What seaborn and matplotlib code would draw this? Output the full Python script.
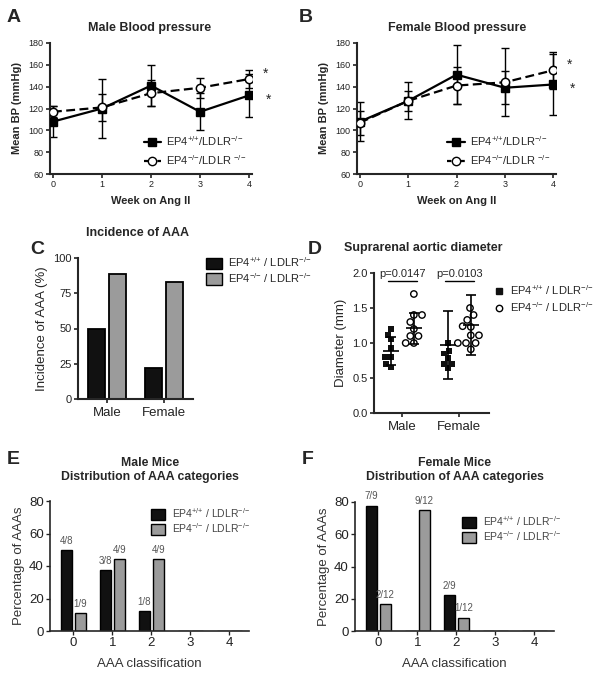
import numpy as np
import pandas as pd
import seaborn as sns
import matplotlib.pyplot as plt
from matplotlib.patches import Patch
from matplotlib.lines import Line2D

# ---- values ----
weeks = [0, 1, 2, 3, 4]
male_wt_bp = [108, 120, 141, 117, 132]
male_wt_sd = [14, 27, 19, 17, 20]
male_ko_bp = [117, 121, 134, 139, 147]
male_ko_sd = [5, 12, 12, 9, 8]
female_wt_bp = [108, 127, 151, 139, 142]
female_wt_sd = [18, 17, 27, 15, 28]
female_ko_bp = [107, 127, 141, 144, 155]
female_ko_sd = [11, 9, 17, 31, 17]

sexes = ['Male', 'Female']
incidence_wt = [50, 22]
incidence_ko = [89, 83]

diam_male_wt = [1.2, 1.12, 1.05, 0.93, 0.8, 0.8, 0.7, 0.65]
diam_male_ko = [1.7, 1.4, 1.4, 1.3, 1.2, 1.1, 1.1, 1.0, 1.0]
diam_female_wt = [1.0, 0.89, 0.85, 0.79, 0.7, 0.7, 0.64]
diam_female_ko = [1.5, 1.4, 1.33, 1.24, 1.23, 1.11, 1.11, 1.0, 1.0, 1.0, 0.91]
diam_mean_wt = [0.89, 0.97]
diam_sd_wt = [0.2, 0.49]
diam_mean_ko = [1.21, 1.26]
diam_sd_ko = [0.22, 0.43]
p_values = ['p=0.0147', 'p=0.0103']

aaa_class = ['0', '1', '2', '3', '4']
male_wt_pct = [50, 37.5, 12.5, 0, 0]
male_ko_pct = [11.1, 44.4, 44.4, 0, 0]
male_wt_n = ['4/8', '3/8', '1/8', '', '']
male_ko_n = ['1/9', '4/9', '4/9', '', '']
female_wt_pct = [77.8, 0, 22.2, 0, 0]
female_ko_pct = [16.7, 75, 8.3, 0, 0]
female_wt_n = ['7/9', '', '2/9', '', '']
female_ko_n = ['2/12', '9/12', '1/12', '', '']

WT_BP = 'EP4$^{{+}/{+}}$/LDLR$^{{-}/{-}}$'
KO_BP = 'EP4$^{{-}/{-}}$/LDLR $^{{-}/{-}}$'
WT = 'EP4$^{{+}/{+}}$ / LDLR$^{{-}/{-}}$'
KO = 'EP4$^{{-}/{-}}$ / LDLR$^{{-}/{-}}$'
BLACK = '#111111'
GREY = '#9b9b9b'

sns.set_style('ticks')
plt.rcParams['font.family'] = ['Liberation Sans', 'DejaVu Sans']
plt.rcParams['mathtext.fontset'] = 'custom'
plt.rcParams['mathtext.rm'] = 'Liberation Sans'
plt.rcParams['mathtext.default'] = 'regular'
plt.rcParams['xtick.direction'] = 'out'
plt.rcParams['ytick.direction'] = 'out'

W, H = 604, 675
fig = plt.figure(figsize=(W / 100, H / 100), dpi=100)


def axes_px(l, r, t, b):
    return fig.add_axes([l / W, 1 - b / H, (r - l) / W, (b - t) / H])


def style(ax, lw, fs, tl=3):
    sns.despine(ax=ax)
    for s in ['left', 'bottom']:
        ax.spines[s].set_linewidth(lw)
    ax.tick_params(width=lw * 0.8, length=tl, labelsize=fs, pad=1.5, colors='#222222')


# ---- A / B blood pressure ----
def bp_panel(ax, wt, wt_sd, ko, ko_sd):
    ax.errorbar(weeks, wt, yerr=wt_sd, fmt='none', ecolor='k', elinewidth=1, capsize=3, capthick=1, zorder=1)
    ax.errorbar(weeks, ko, yerr=ko_sd, fmt='none', ecolor='k', elinewidth=1, capsize=3, capthick=1, zorder=1)
    sns.lineplot(x=weeks, y=wt, ax=ax, color='k', lw=1.6, marker='s', ms=5.5, mec='k', mew=1, zorder=3)
    sns.lineplot(x=weeks, y=ko, ax=ax, color='k', lw=1.6, ls=(0, (4, 2)), marker='o', ms=6,
                 mfc='white', mec='k', mew=1.1, zorder=3)
    ax.set_xlim(-0.06, 4.06)
    ax.set_ylim(60, 180)
    ax.set_xticks(weeks)
    ax.set_yticks(range(60, 181, 20))
    style(ax, 1.5, 6.5)
    ax.set_xlabel('Week on Ang II', fontsize=8, fontweight='bold', labelpad=5)
    ax.set_ylabel('Mean BP (mmHg)', fontsize=8, fontweight='bold', labelpad=5)
    ax.annotate('*', (4, ko[-1]), xytext=(10, 4), textcoords='offset points', fontsize=10, va='center')
    ax.annotate('*', (4, wt[-1]), xytext=(12, -3), textcoords='offset points', fontsize=10, va='center')
    handles = [Line2D([], [], color='k', lw=1.6, marker='s', ms=5.5),
               Line2D([], [], color='k', lw=1.6, ls=(0, (2, 1)), marker='o', ms=6, mfc='white')]
    ax.legend(handles, [WT_BP, KO_BP], loc='lower right', bbox_to_anchor=(1.02, -0.02), frameon=False,
              fontsize=8, handlelength=1.6, handletextpad=0.4, labelspacing=0.45)


axA = axes_px(50, 252, 43, 174)
bp_panel(axA, male_wt_bp, male_wt_sd, male_ko_bp, male_ko_sd)
axB = axes_px(357, 556, 43, 174)
bp_panel(axB, female_wt_bp, female_wt_sd, female_ko_bp, female_ko_sd)
fig.text(150 / W, 1 - 28 / H, 'Male Blood pressure', ha='center', va='center', fontsize=9, fontweight='bold')
fig.text(457 / W, 1 - 28 / H, 'Female Blood pressure', ha='center', va='center', fontsize=9, fontweight='bold')

# ---- C incidence ----
axC = axes_px(78, 193, 258, 399)
df_inc = pd.DataFrame({'sex': sexes * 2, 'pct': incidence_wt + incidence_ko,
                       'geno': [WT] * 2 + [KO] * 2})
sns.barplot(data=df_inc, x='sex', y='pct', hue='geno', hue_order=[WT, KO], palette=[BLACK, GREY],
            width=0.74, gap=0.19, edgecolor='k', linewidth=1.3, ax=axC, legend=False)
axC.set_xlim(-0.51, 1.51)
axC.set_ylim(0, 100)
axC.set_yticks([0, 25, 50, 75, 100])
style(axC, 1.5, 8)
axC.tick_params(axis='x', labelsize=9.5, pad=3)
axC.set_xlabel('')
axC.set_ylabel('Incidence of AAA (%)', fontsize=9.5, labelpad=4)
axC.legend([Patch(fc=BLACK, ec='k', lw=1), Patch(fc=GREY, ec='k', lw=1)], [WT, KO], loc='upper left',
           bbox_to_anchor=(1.03, 1.09), frameon=False, fontsize=8, handlelength=1.4, handleheight=1.2,
           handletextpad=0.5, labelspacing=0.15)
fig.text(137 / W, 1 - 233 / H, 'Incidence of AAA', ha='center', va='center', fontsize=9, fontweight='bold')

# ---- D diameter ----
axD = axes_px(374, 489, 273, 413)
df_d = pd.DataFrame({
    'sex': ['Male'] * (len(diam_male_wt) + len(diam_male_ko)) + ['Female'] * (len(diam_female_wt) + len(diam_female_ko)),
    'd': diam_male_wt + diam_male_ko + diam_female_wt + diam_female_ko,
    'geno': [WT] * len(diam_male_wt) + [KO] * len(diam_male_ko) + [WT] * len(diam_female_wt) + [KO] * len(diam_female_ko),
})
sns.swarmplot(data=df_d[df_d.geno == WT], x='sex', y='d', hue='geno', hue_order=[WT, KO], order=sexes,
              dodge=True, palette={WT: BLACK, KO: 'white'}, marker='s', size=4.2, ax=axD, legend=False, zorder=3)
sns.swarmplot(data=df_d[df_d.geno == KO], x='sex', y='d', hue='geno', hue_order=[WT, KO], order=sexes,
              dodge=True, palette={WT: BLACK, KO: 'white'}, marker='o', size=4.6, edgecolor='k', linewidth=1,
              ax=axD, legend=False, zorder=3)
xpos = np.arange(len(sexes))
for off, m, s in [(-0.2, diam_mean_wt, diam_sd_wt), (0.2, diam_mean_ko, diam_sd_ko)]:
    axD.errorbar(xpos + off, m, yerr=s, fmt='none', ecolor='k', elinewidth=1.2, capsize=3.5, capthick=1.2, zorder=4)
    axD.hlines(m, xpos + off - 0.14, xpos + off + 0.14, color='k', lw=1.2, zorder=4)
for x, p in zip(xpos, p_values):
    axD.plot([x - 0.26, x + 0.26], [1.88, 1.88], color='k', lw=1, clip_on=False)
    axD.text(x, 1.95, p, ha='center', va='baseline', fontsize=8)
axD.set_xlim(-0.5, 1.52)
axD.set_ylim(0, 2.0)
axD.set_yticks([0, 0.5, 1.0, 1.5, 2.0])
axD.set_yticklabels(['0.0', '0.5', '1.0', '1.5', '2.0'])
style(axD, 1.5, 8)
axD.tick_params(axis='x', labelsize=9.5, pad=3)
axD.set_xlabel('')
axD.set_ylabel('Diameter (mm)', fontsize=9.5, labelpad=4)
axD.legend([Line2D([], [], ls='', marker='s', ms=4.2, color=BLACK),
            Line2D([], [], ls='', marker='o', ms=4.6, mfc='white', mec='k')], [WT, KO], loc='upper left',
           bbox_to_anchor=(0.95, 1.0), frameon=False, fontsize=8, handlelength=1, handletextpad=0.5,
           labelspacing=0.3)
fig.text(344 / W, 1 - 248 / H, 'Suprarenal aortic diameter', ha='left', va='center', fontsize=9,
         fontweight='bold')


# ---- E / F distribution ----
def dist_panel(ax, wt, ko, wt_n, ko_n, leg_xy):
    df = pd.DataFrame({'cls': aaa_class * 2, 'pct': wt + ko, 'geno': [WT] * 5 + [KO] * 5})
    sns.barplot(data=df, x='cls', y='pct', hue='geno', hue_order=[WT, KO], palette=[BLACK, GREY],
                width=0.72, gap=0.22, edgecolor='k', linewidth=1, ax=ax, legend=False)
    for cont, labels in zip(ax.containers, [wt_n, ko_n]):
        ax.bar_label(cont, labels=labels, padding=3, fontsize=7, color='#555555')
    ax.set_xlim(-0.6, 4.5)
    ax.set_ylim(0, 80)
    ax.set_yticks(range(0, 81, 20))
    style(ax, 1.2, 9.5)
    ax.set_xlabel('AAA classification', fontsize=9.5, color='#333333', labelpad=6)
    ax.set_ylabel('Percentage of AAAs', fontsize=9.5, color='#333333', labelpad=3)
    ax.legend([Patch(fc=BLACK, ec='k', lw=1), Patch(fc=GREY, ec='k', lw=1)], [WT, KO], loc='upper left',
              bbox_to_anchor=leg_xy, frameon=False, fontsize=7.5, handlelength=1.4, handleheight=1.3,
              handletextpad=0.6, labelspacing=0.1, labelcolor='#444444')


axE = axes_px(50, 249, 501, 631)
dist_panel(axE, male_wt_pct, male_ko_pct, male_wt_n, male_ko_n, (0.46, 1.03))
axF = axes_px(355, 554, 502, 631)
dist_panel(axF, female_wt_pct, female_ko_pct, female_wt_n, female_ko_n, (0.49, 0.98))
fig.text(150 / W, 1 - 470 / H, 'Male Mice\nDistribution of AAA categories', ha='center', va='center',
         fontsize=8.8, fontweight='bold', linespacing=1.2)
fig.text(455 / W, 1 - 470 / H, 'Female Mice\nDistribution of AAA categories', ha='center', va='center',
         fontsize=8.8, fontweight='bold', linespacing=1.2)

# ---- panel letters ----
for letter, x, y in [('A', 14, 17), ('B', 306, 17), ('C', 37, 250), ('D', 315, 250), ('E', 13, 459), ('F', 308, 459)]:
    fig.text(x / W, 1 - y / H, letter, ha='center', va='center', fontsize=14, fontweight='bold')

fig.savefig('out.png', dpi=100)
